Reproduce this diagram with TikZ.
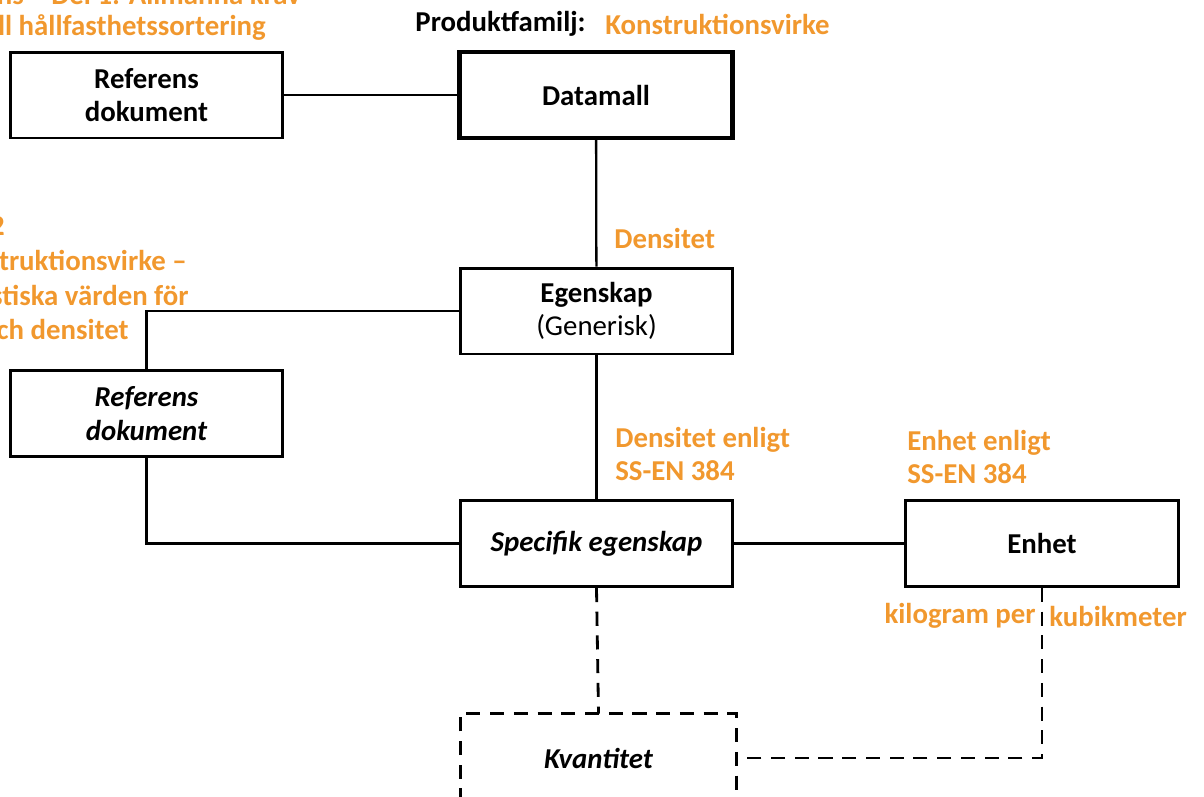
\documentclass[tikz,border=0pt]{standalone}
\usepackage{fontspec}
\setmainfont{Carlito}
\usetikzlibrary{positioning}
\definecolor{notecol}{RGB}{241,152,46}

\begin{document}
\begin{tikzpicture}[x=0.02cm,y=-0.02cm,
    font=\fontsize{16.4}{19}\selectfont,
    box/.style={draw,line width=1.7pt,minimum width=5.46cm,minimum height=1.72cm,
                align=center,inner sep=0pt},
    note/.style={text=notecol,font=\fontsize{16.4}{19.3}\selectfont\bfseries,align=left,inner sep=0pt},
    link/.style={line width=1.3pt},
    maybe/.style={line width=1.6pt,dash pattern=on 8pt off 5.5pt}]
    \useasboundingbox (0,0) rectangle (1204,796);
    \clip (0,0) rectangle (1204,796);

    % produktfamilj
    \node[inner sep=0pt,anchor=east,font=\fontsize{16.4}{19}\selectfont\bfseries] (fam) at (586,24) {Produktfamilj:};
    \node[note,anchor=west] (famval) at (605,24) {Konstruktionsvirke};

    % boxes
    \node[box,line width=2.5pt,font=\fontsize{16.4}{19}\selectfont\bfseries] (mall) at (596,95) {Datamall};
    \node[box,font=\fontsize{16.4}{19}\selectfont\bfseries] (ref1) at (146.5,95) {Referens\\dokument};
    \node[box] (egen) at (596.5,311) {\textbf{Egenskap}\\(Generisk)};
    \node[box,font=\fontsize{16.4}{19}\selectfont\bfseries\itshape] (ref2) at (146.5,413.5) {Referens\\dokument};
    \node[box,font=\fontsize{16.4}{19}\selectfont\bfseries\itshape] (spec) at (596.5,543.5) {Specifik egenskap};
    \node[box,font=\fontsize{16.4}{19}\selectfont\bfseries] (enhet) at (1042,543.5) {Enhet};
    \node[box,draw=none,font=\fontsize{16.4}{19}\selectfont\bfseries\itshape] (kvant) at (598.5,758) {Kvantitet};
    \draw[maybe] (kvant.south west) -- (kvant.north west) -- (kvant.north east) -- (kvant.south east);

    % connectors
    \draw[link] (ref1) -- (mall);
    \draw[link] (mall) -- (egen);
    \draw[link] (egen.west) -| (ref2.north);
    \draw[link] (ref2.south) |- (spec.west);
    \draw[link] (egen) -- (spec);
    \draw[link] (spec) -- (enhet);
    \draw[maybe] (spec.south) -- (kvant.north);
    \draw[maybe] (enhet.south) |- (kvant.east);

    % orange notes
    \node[note,anchor=east] (doc1a) at (301,-6) {ns – Del 1: Allmänna krav};
    \node[note,anchor=east] (doc1b) at (266,27) {till hållfasthetssortering};
    \node[note,anchor=east] (doc2a) at (5,226) {2};
    \node[note,anchor=east] (doc2b) at (187,260) {Konstruktionsvirke –};
    \node[note,anchor=east] (doc2c) at (189,295) {karakteristiska värden för};
    \node[note,anchor=east] (doc2d) at (129,329) {och densitet};
    \node[note,anchor=west] (dens) at (614,238) {Densitet};
    \node[note,anchor=west] (densref) at (615,454) {Densitet enligt\\SS-EN 384};
    \node[note,anchor=west] (enhref) at (907,457) {Enhet enligt\\SS-EN 384};
    \node[note,anchor=east] (kg) at (1036,616) {kilogram per};
    \node[note,anchor=west] (m3) at (1049,616) {kubikmeter};
\end{tikzpicture}
\end{document}
